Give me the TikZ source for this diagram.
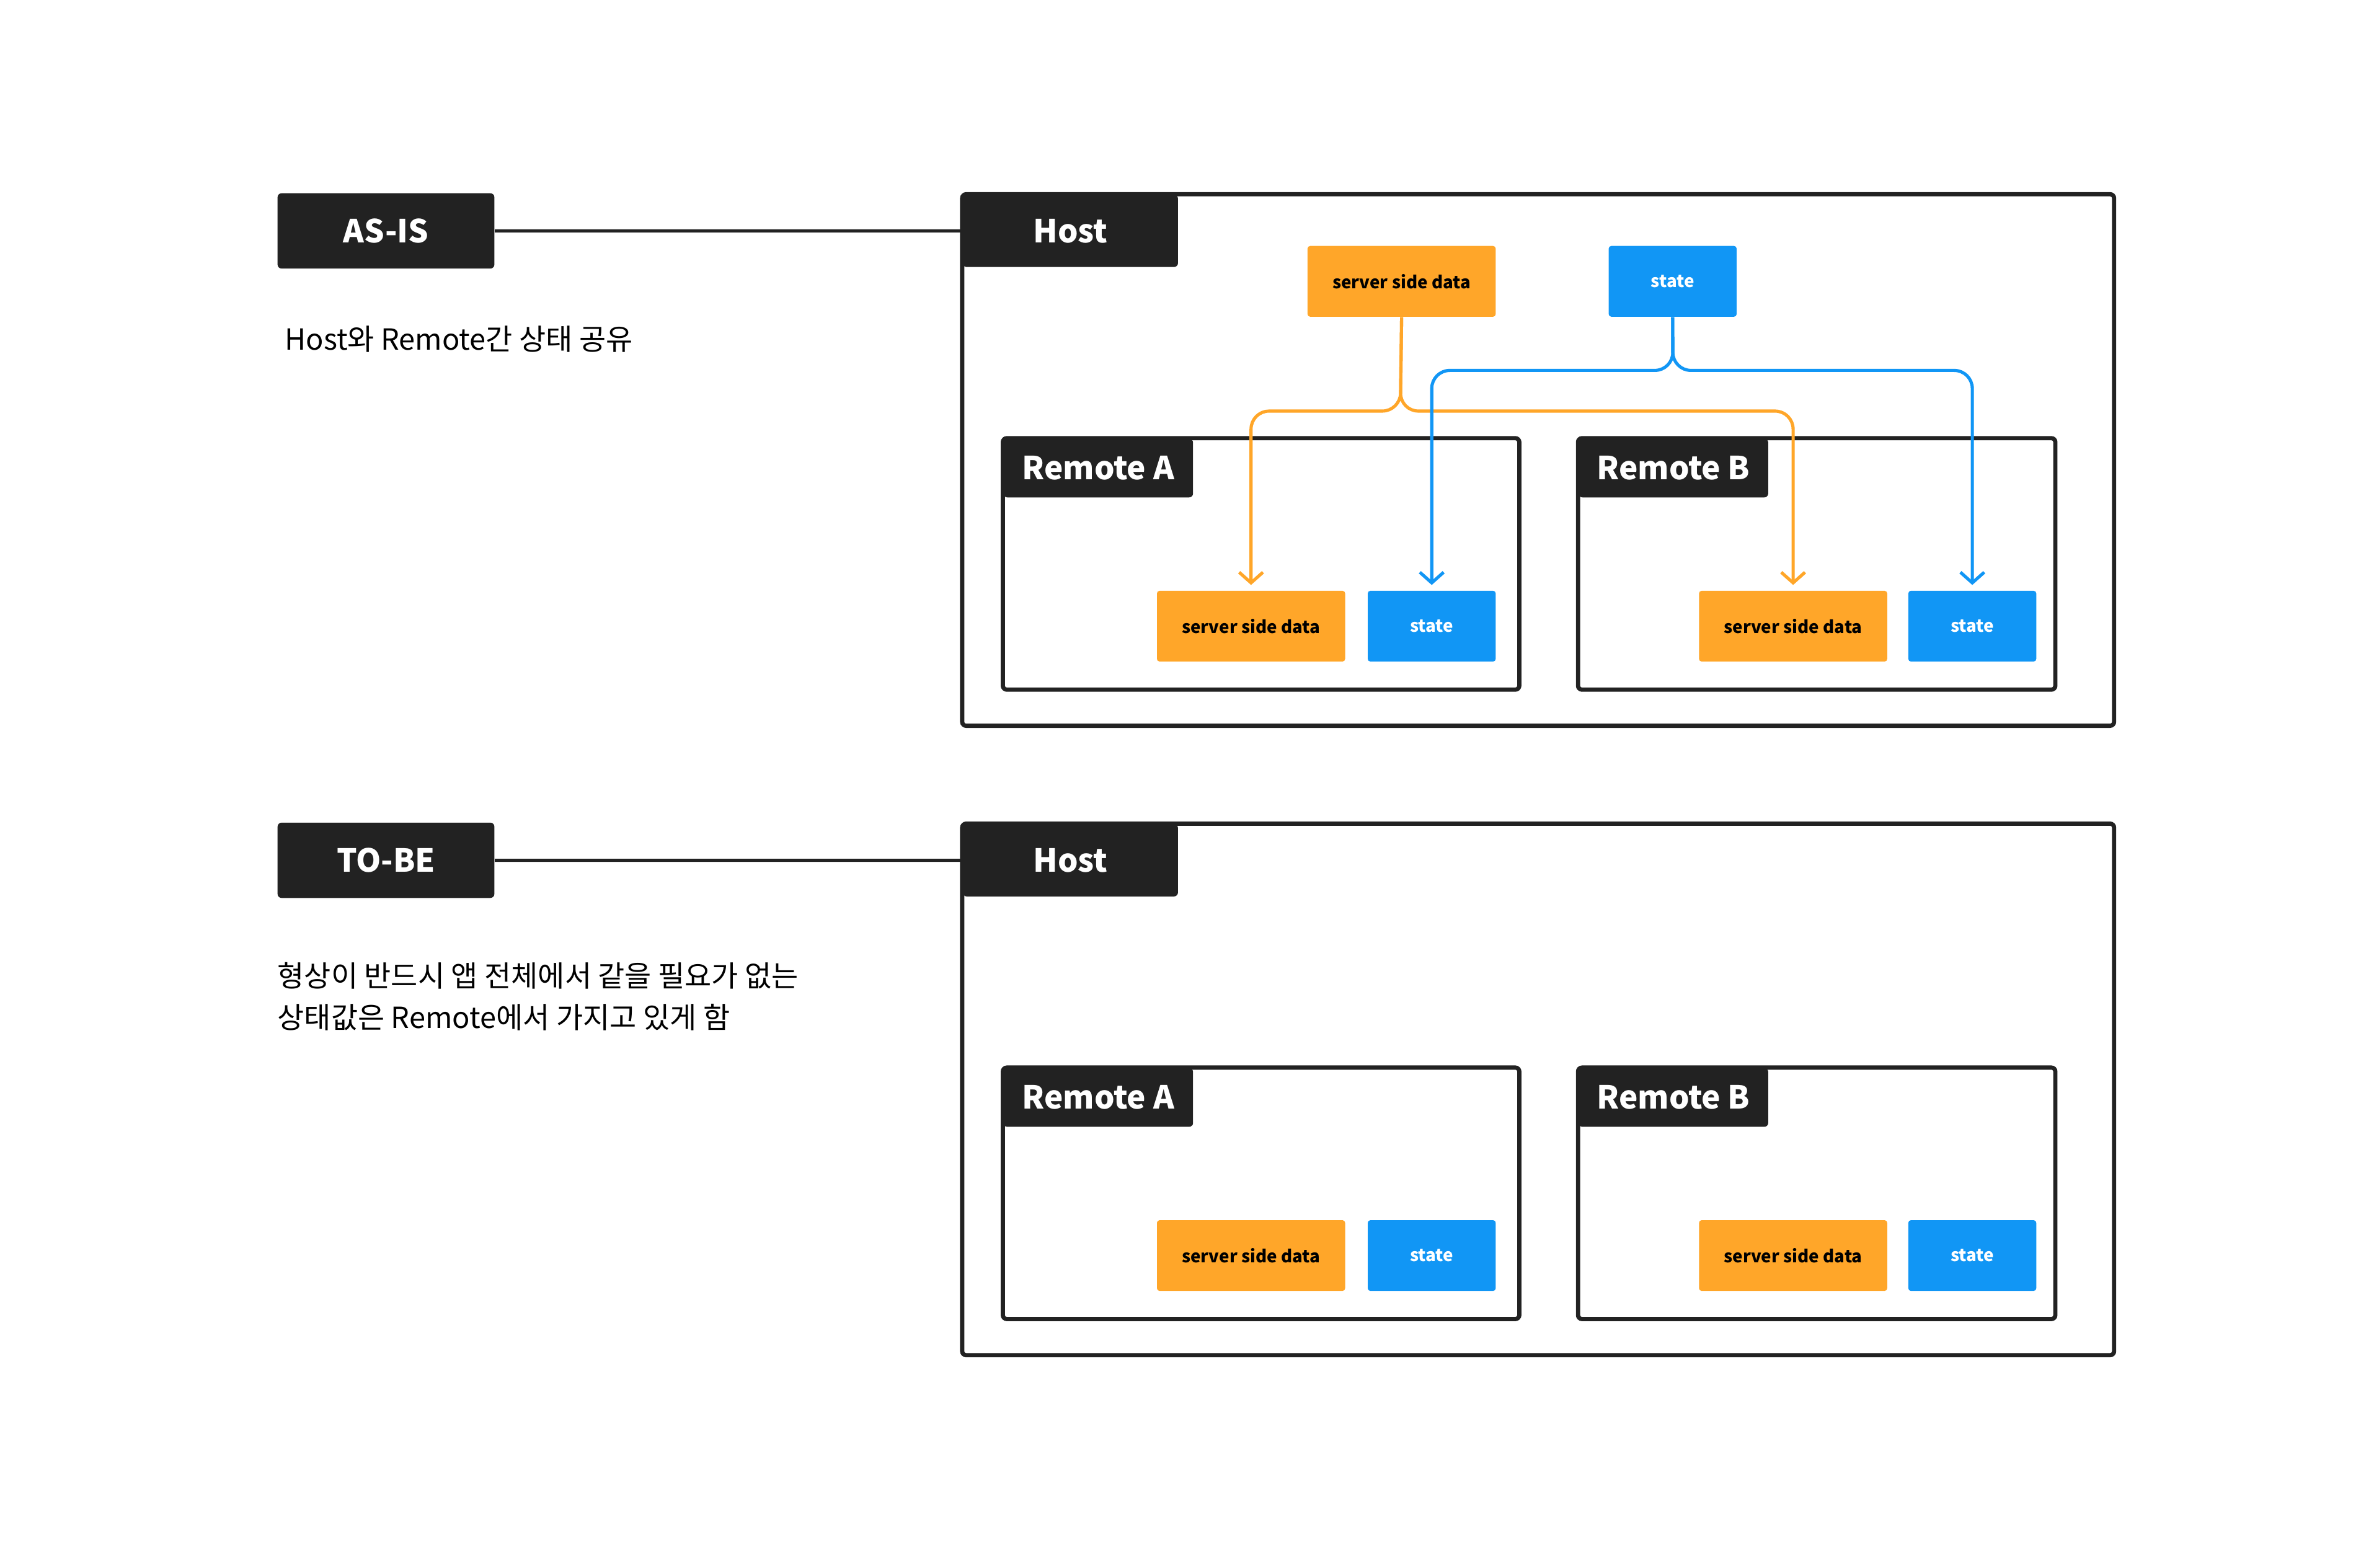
\documentclass[tikz,border=0pt]{standalone}
\usepackage{fontspec}
\setmainfont{Noto Sans CJK KR}
\usetikzlibrary{arrows.meta,positioning,calc}
\definecolor{darkbox}{HTML}{222222}
\definecolor{ssdorange}{HTML}{FFA629}
\definecolor{stateblue}{HTML}{1196F5}

\tikzset{
  tag/.style={fill=darkbox, text=white, rounded corners=1.5pt, anchor=north west,
    inner sep=0pt, font=\bfseries\fontsize{12}{14}\selectfont},
  frame/.style={draw=darkbox, line width=1.6pt, rounded corners=1.5pt},
  chip/.style={rounded corners=1pt, anchor=north west, inner sep=0pt,
    font=\bfseries\fontsize{6.5}{8}\selectfont},
  ssd/.style={chip, fill=ssdorange, text=black, minimum width=2.5cm, minimum height=0.94cm},
  st/.style={chip, fill=stateblue, text=white, minimum width=1.7cm, minimum height=0.94cm},
  flow/.style={line width=1.2pt, rounded corners=0.24cm, -{Straight Barb[length=4pt,width=9pt]}},
}

\begin{document}
\begin{tikzpicture}[x=0.02cm, y=-0.02cm]
  \useasboundingbox (0,0) rectangle (1568,1041);

  % both sections share the same layout
  \foreach \sec/\oy/\lab in {asis/0/AS-IS, tobe/418/TO-BE} {
    \node[tag, minimum width=2.88cm, minimum height=1cm] (\sec-tag) at (184,128+\oy) {\lab};
    \draw[frame] (639,129+\oy) rectangle (1404,482+\oy);
    \node[tag, minimum width=2.86cm, minimum height=0.96cm] (\sec-host) at (639,129+\oy) {Host};
    \draw[line width=1.2pt, darkbox] (\sec-tag.east) -- (\sec-host.west);

    % remotes
    \draw[frame] (666,291+\oy) rectangle (1009,458+\oy);
    \node[tag, minimum width=2.52cm, minimum height=0.78cm] (\sec-ra) at (666,291+\oy) {Remote A};
    \node[ssd] (\sec-ra-ssd) at (768,392+\oy) {server side data};
    \node[st] (\sec-ra-st) at (908,392+\oy) {state};

    \draw[frame] (1048,291+\oy) rectangle (1365,458+\oy);
    \node[tag, minimum width=2.52cm, minimum height=0.78cm] (\sec-rb) at (1048,291+\oy) {Remote B};
    \node[ssd] (\sec-rb-ssd) at (1128,392+\oy) {server side data};
    \node[st] (\sec-rb-st) at (1267,392+\oy) {state};
  }

  % AS-IS: host shares its state down to the remotes
  \node[anchor=west, font=\fontsize{11}{14}\selectfont] (asis-note) at (183,225) {Host와 Remote간 상태 공유};
  \node[ssd] (host-ssd) at (868,163) {server side data};
  \node[st] (host-st) at (1068,163) {state};

  \draw[flow, ssdorange] (host-ssd.south) -- (930,273) -| ([yshift=2pt]asis-ra-ssd.north);
  \draw[flow, ssdorange] (host-ssd.south) -- (930,273) -| ([yshift=2pt]asis-rb-ssd.north);
  \draw[flow, stateblue] (host-st.south) -- (1111,246) -| ([yshift=2pt]asis-ra-st.north);
  \draw[flow, stateblue] (host-st.south) -- (1111,246) -| ([yshift=2pt]asis-rb-st.north);

  % TO-BE
  \node[anchor=north west, align=left, inner sep=0pt, font=\fontsize{11}{15.5}\selectfont] (tobe-note) at (184,639)
    {형상이 반드시 앱 전체에서 같을 필요가 없는\\상태값은 Remote에서 가지고 있게 함};
\end{tikzpicture}
\end{document}
